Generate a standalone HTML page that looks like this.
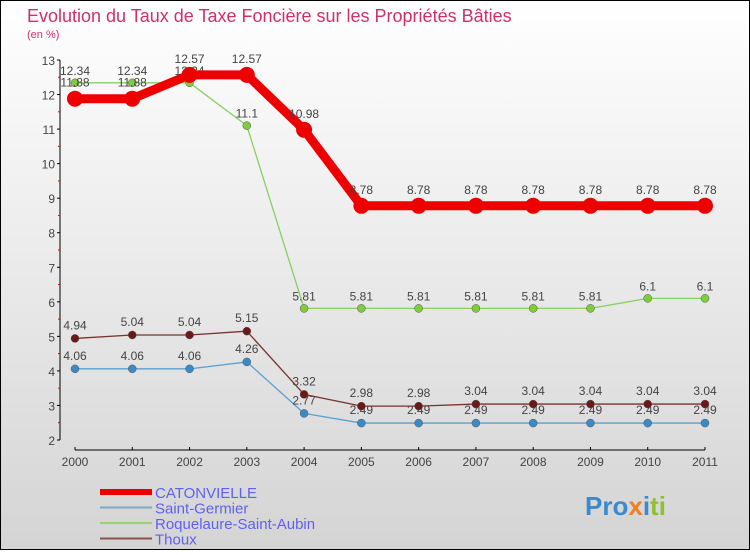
<!DOCTYPE html>
<html><head><meta charset="utf-8"><style>
body{margin:0}
svg text{font-family:"Liberation Sans",sans-serif}
</style></head><body>
<svg width="750" height="550" viewBox="0 0 750 550" xmlns="http://www.w3.org/2000/svg">
<defs><linearGradient id="bg" x1="0" y1="0" x2="0" y2="1"><stop offset="0" stop-color="#ffffff"/><stop offset="1" stop-color="#d4d4d4"/></linearGradient></defs>
<rect x="0.5" y="0.5" width="749" height="549" fill="url(#bg)" stroke="#000"/>
<text x="27" y="22" font-size="18" fill="#d0306a">Evolution du Taux de Taxe Foncière sur les Propriétés Bâties</text>
<text x="27" y="38" font-size="11" fill="#d0306a">(en %)</text>
<g id="axes"></g>
<g id="series"></g>
<g id="legend"></g>
<text x="585" y="515" font-size="26" font-weight="bold" fill="#3a8ad0">Pro<tspan fill="#f08020">x</tspan><tspan fill="#3a8ad0">i</tspan><tspan fill="#90c030">ti</tspan></text>
</svg>
<script>
const years=[2000,2001,2002,2003,2004,2005,2006,2007,2008,2009,2010,2011];
const yTicks=[2,3,4,5,6,7,8,9,10,11,12,13];
const catonvielle=[11.88,11.88,12.57,12.57,10.98,8.78,8.78,8.78,8.78,8.78,8.78,8.78];
const saintGermier=[4.06,4.06,4.06,4.26,2.77,2.49,2.49,2.49,2.49,2.49,2.49,2.49];
const roquelaure=[12.34,12.34,12.34,11.1,5.81,5.81,5.81,5.81,5.81,5.81,6.1,6.1];
const thoux=[4.94,5.04,5.04,5.15,3.32,2.98,2.98,3.04,3.04,3.04,3.04,3.04];
const NS="http://www.w3.org/2000/svg";
const xS=i=>75+i*(630/11);
const yS=v=>440-(v-2)*(380/11);
function mk(t,a,p){const e=document.createElementNS(NS,t);for(const k in a)e.setAttribute(k,a[k]);p.appendChild(e);return e;}
const ax=document.getElementById('axes');
let l=mk('line',{x1:60,y1:60,x2:60,y2:440,stroke:'#000'},ax);


l=mk('line',{x1:75,y1:450,x2:705,y2:450,stroke:'#000'},ax);


yTicks.forEach(v=>{
 mk('line',{x1:57,y1:yS(v),x2:60,y2:yS(v),stroke:'#000'},ax);
 if(v<13) mk('line',{x1:58,y1:yS(v+0.5),x2:60,y2:yS(v+0.5),stroke:'#e00'},ax);
 const t=mk('text',{x:55,y:yS(v)+5,'text-anchor':'end','font-size':12,fill:'#444'},ax);
 t.textContent=v;
 
 
});
years.forEach((y,i)=>{
 mk('line',{x1:xS(i),y1:447,x2:xS(i),y2:450,stroke:'#000'},ax);
 const t=mk('text',{x:xS(i),y:466,'text-anchor':'middle','font-size':12,fill:'#444'},ax);
 t.textContent=y;
 
 
});
const sg=document.getElementById('series');
const defs=[
 {d:roquelaure,c:'#88d060',w:1.3,r:4,n:'roquelaure',fill:'#80cc40',dy:-8},
 {d:saintGermier,c:'#5aa0d0',w:1.3,r:4,n:'saint-germier',fill:'#3a8ac8',dy:-9},
 {d:thoux,c:'#7a3030',w:1.3,r:4,n:'thoux',fill:'#6a1818',dy:-9},
 {d:catonvielle,c:'#ee0000',w:9,r:8,n:'catonvielle',fill:'#ee0000',dy:-12}
];
defs.forEach(s=>{
 const g=mk('g',{},sg);
 
 
 const p=mk('polyline',{points:s.d.map((v,i)=>xS(i)+','+yS(v)).join(' '),fill:'none',stroke:s.c,'stroke-width':s.w,'stroke-linejoin':'round'},g);
 
 
 s.d.forEach((v,i)=>{
  const c=mk('circle',{cx:xS(i),cy:yS(v),r:s.r,fill:s.fill,stroke:s.w>2?'none':'#555','stroke-width':0.5},g);
  
  
  const t=mk('text',{x:xS(i),y:yS(v)+s.dy,'text-anchor':'middle','font-size':12,fill:'#444'},g);
  t.textContent=String(v).replace('.', '.');
  
  
 });
});
const lg=document.getElementById('legend');
const items=[['CATONVIELLE','#ee0000',6],['Saint-Germier','#7aa8c8',2],['Roquelaure-Saint-Aubin','#98d070',2],['Thoux','#8a5050',2]];
items.forEach((it,i)=>{
 const y=492+i*15.5;
 const ln=mk('line',{x1:100,y1:y,x2:152,y2:y,stroke:it[1],'stroke-width':it[2]},lg);
 
 
 const t=mk('text',{x:155,y:y+6,'font-size':15,fill:'#6060f0'},lg);
 t.textContent=it[0];
 
 
});
</script>
</body></html>
